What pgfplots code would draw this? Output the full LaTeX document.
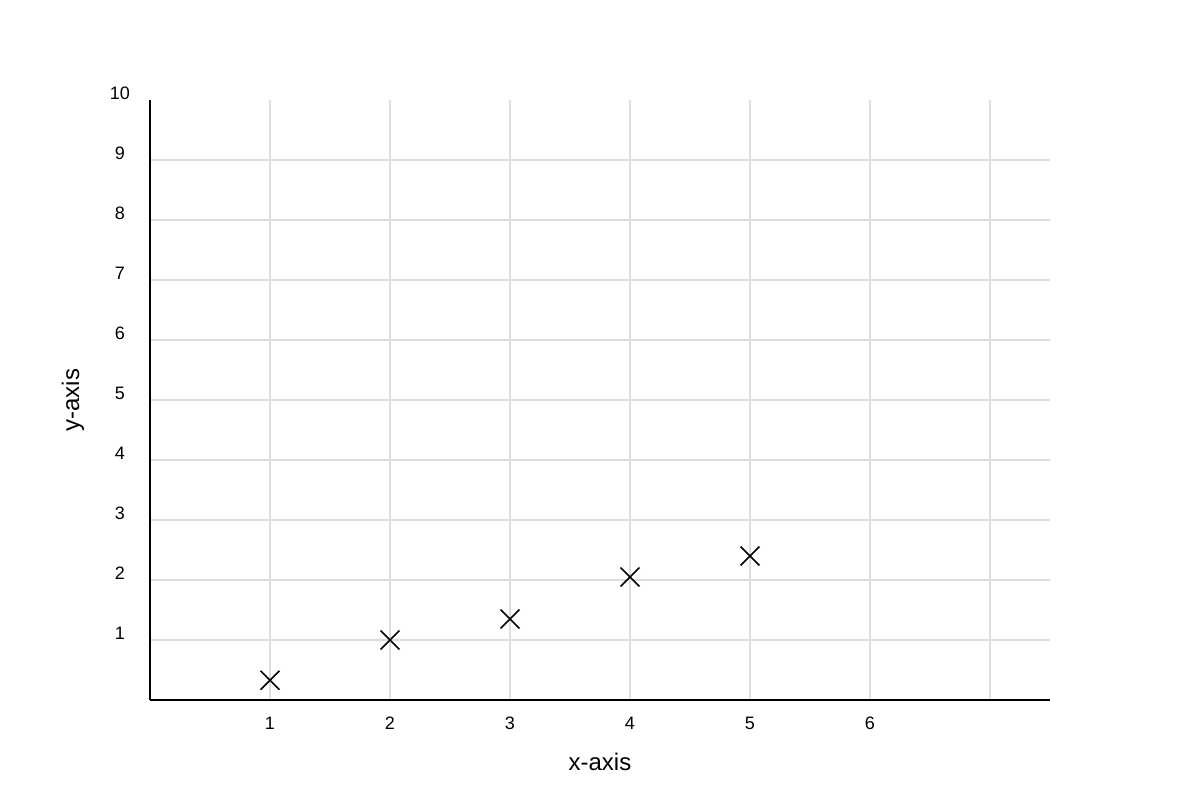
\documentclass[border=0pt]{standalone}
\usepackage{fontspec}
\setmainfont{Liberation Sans}
\usepackage{pgfplots}
\pgfplotsset{compat=1.18}
\definecolor{gridgray}{HTML}{DEDEDE}

\begin{document}
\begin{tikzpicture}
\path[use as bounding box] (-75pt,-50pt) rectangle (525pt,350pt);
\begin{axis}[
	at={(0,0)}, anchor=south west,
	scale only axis,
	width=450pt, height=300pt,
	xmin=0, xmax=7.5,
	ymin=0, ymax=10,
	axis x line=bottom,
	axis y line=left,
	axis line style={-, black, line width=1pt},
	major tick length=0pt,
	xtick={1,...,7},
	xticklabels={1,2,3,4,5,6,{}},
	ytick={1,...,9},
	extra y ticks={10},
	extra tick style={grid=none},
	grid=major,
	major grid style={gridgray, line width=0.6pt},
	/pgf/number format/assume math mode=true,
	tick label style={font=\fontsize{9}{10}\selectfont, text=black},
	xticklabel style={anchor=center, yshift=-11.5pt},
	yticklabel style={anchor=center, xshift=-15pt, yshift=3.5pt},
	xlabel={x-axis},
	ylabel={y-axis},
	label style={font=\fontsize{12}{14}\selectfont},
	xlabel style={at={(axis description cs:0.5,-0.1033)}, anchor=center},
	ylabel style={at={(axis description cs:-0.0856,0.5)}, anchor=center},
	clip=false,
]
\addplot[only marks, mark=x, mark size=6.7pt, mark options={line width=0.8pt, black}]
	coordinates {(1,0.33) (2,1.0) (3,1.35) (4,2.05) (5,2.4)};
\end{axis}
\end{tikzpicture}
\end{document}
